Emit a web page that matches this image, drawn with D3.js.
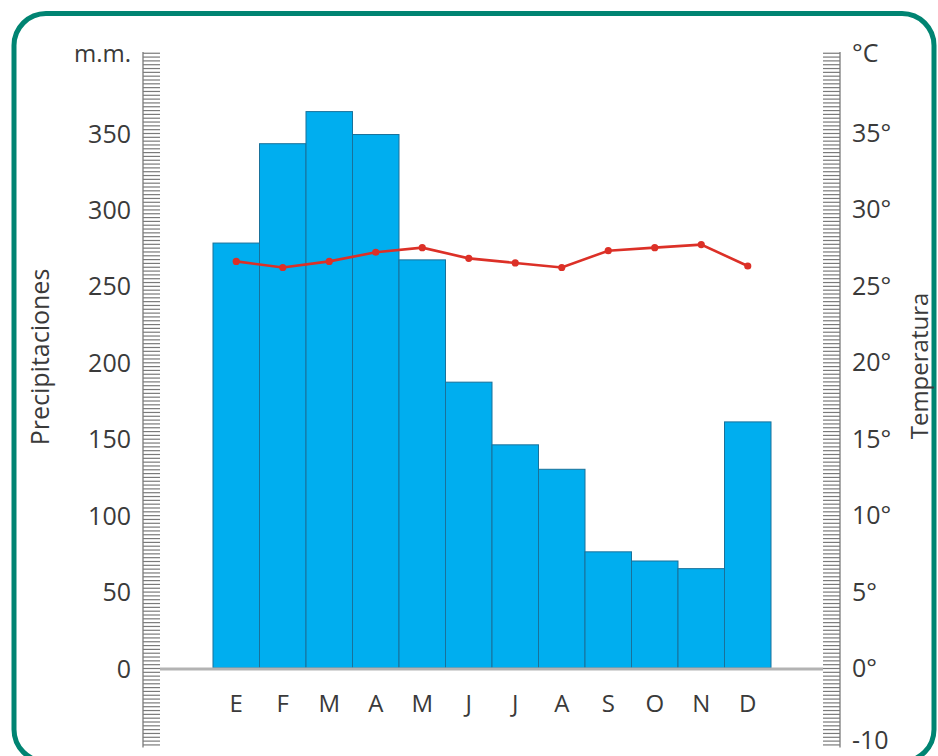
<!DOCTYPE html>
<html>
<head>
<meta charset="utf-8">
<script src="https://cdn.jsdelivr.net/npm/d3@7"></script>
<style>
  body { margin: 0; background: #fff; }
  svg text { font-family: 'Open Sans', 'Noto Sans', sans-serif; fill: #3a3a3a; }
</style>
</head>
<body>
<div id="chart"></div>
<script>
// climograma: precipitacion mensual (barras) y temperatura media (linea)
const months = ['E', 'F', 'M', 'A', 'M', 'J', 'J', 'A', 'S', 'O', 'N', 'D']
const precip = [278, 343, 364, 349, 267, 187, 146, 130, 76, 70, 65, 161]
const temp = [26.6, 26.2, 26.6, 27.2, 27.5, 26.8, 26.5, 26.2, 27.3, 27.5, 27.7, 26.3]

const precipTicks = [0, 50, 100, 150, 200, 250, 300, 350]
const tempTicks = [0, 5, 10, 15, 20, 25, 30, 35]
const tempTickLabels = ['0°', '5°', '10°', '15°', '20°', '25°', '30°', '35°']
// the bottom label of the original reads -10 at the -5 mark
const tempExtraTick = { value: -5, label: '-10' }

const W = 938
const H = 756
const barColor = '#00aeef'
const barStroke = '#19719a'
const lineColor = '#dc3027'
const rulerColor = '#7a7a7a'

const svg = d3.select('#chart')
  .append('svg')
  .attr('width', W)
  .attr('height', H)

// frame
svg.append('rect')
  .attr('x', 14)
  .attr('y', 13.5)
  .attr('width', 920)
  .attr('height', 748)
  .attr('rx', 32)
  .attr('ry', 32)
  .style('fill', 'none')
  .style('stroke', '#008472')
  .style('stroke-width', 5)

// scales
const x = d3.scaleBand()
  .domain(d3.range(months.length))
  .range([213, 771])
  .padding(0)

const yP = d3.scaleLinear()
  .domain([0, 350])
  .range([668, 133])

const yT = d3.scaleLinear()
  .domain([0, 35])
  .range([668, 133])

// rulers (dense gray ticks on both sides)
function drawRuler (axis, tx, edgeX) {
  const g = svg.append('g')
    .attr('transform', 'translate(' + tx + ',0)')
    .call(axis)
  g.select('.domain').remove()
  g.selectAll('.tick line')
    .style('stroke', rulerColor)
    .style('stroke-width', 1.2)
  svg.append('line')
    .attr('x1', edgeX)
    .attr('x2', edgeX)
    .attr('y1', yP(403))
    .attr('y2', yP(-52))
    .style('stroke', rulerColor)
    .style('stroke-width', 1.3)
}

const rulerValues = d3.range(-50, 402.6, 2.5)
drawRuler(d3.axisRight(yP).tickValues(rulerValues).tickSize(17).tickFormat(''), 143, 143)
drawRuler(d3.axisLeft(yP).tickValues(rulerValues).tickSize(17).tickFormat(''), 840, 840)

// left tick labels
const leftAxis = svg.append('g')
  .attr('transform', 'translate(160,0)')
  .call(d3.axisLeft(yP).tickValues(precipTicks).tickSize(0).tickPadding(29))
leftAxis.select('.domain').remove()
leftAxis.selectAll('text')
  .style('font-size', '25px')
  .attr('dy', '0.36em')

// right tick labels
const tempLabelData = tempTicks.map((v, i) => ({ value: v, label: tempTickLabels[i] }))
tempLabelData.push(tempExtraTick)
svg.append('g')
  .selectAll('text')
  .data(tempLabelData)
  .join('text')
  .attr('x', 852)
  .attr('y', d => yT(d.value))
  .attr('dy', d => d.value < 0 ? '0.2em' : '0.36em')
  .style('font-size', '25px')
  .text(d => d.label)

// units
svg.append('text')
  .attr('x', 131)
  .attr('y', 62)
  .attr('text-anchor', 'end')
  .style('font-size', '24px')
  .text('m.m.')

svg.append('text')
  .attr('x', 852)
  .attr('y', 62)
  .style('font-size', '25px')
  .text('°C')

// axis titles
svg.append('text')
  .attr('transform', 'translate(49,357) rotate(-90)')
  .attr('text-anchor', 'middle')
  .style('font-size', '25px')
  .text('Precipitaciones')

svg.append('text')
  .attr('transform', 'translate(928,366) rotate(-90)')
  .attr('text-anchor', 'middle')
  .style('font-size', '24px')
  .text('Temperatura')

// bars
svg.append('g')
  .selectAll('rect')
  .data(precip)
  .join('rect')
  .attr('x', (d, i) => x(i))
  .attr('y', d => yP(d))
  .attr('width', x.bandwidth())
  .attr('height', d => yP(0) - yP(d))
  .style('fill', barColor)
  .style('stroke', barStroke)
  .style('stroke-width', 1)

// baseline
svg.append('line')
  .attr('x1', 160)
  .attr('x2', 823)
  .attr('y1', yP(0) + 1)
  .attr('y2', yP(0) + 1)
  .style('stroke', '#b3b3b3')
  .style('stroke-width', 3)

// month labels
svg.append('g')
  .selectAll('text')
  .data(months)
  .join('text')
  .attr('x', (d, i) => x(i) + x.bandwidth() / 2)
  .attr('y', 712)
  .attr('text-anchor', 'middle')
  .style('font-size', '24px')
  .text(d => d)

// temperature line
const line = d3.line()
  .x((d, i) => x(i) + x.bandwidth() / 2)
  .y(d => yT(d))

svg.append('path')
  .datum(temp)
  .attr('d', line)
  .style('fill', 'none')
  .style('stroke', lineColor)
  .style('stroke-width', 2.6)

svg.append('g')
  .selectAll('circle')
  .data(temp)
  .join('circle')
  .attr('cx', (d, i) => x(i) + x.bandwidth() / 2)
  .attr('cy', d => yT(d))
  .attr('r', 3.6)
  .style('fill', lineColor)
</script>
</body>
</html>
